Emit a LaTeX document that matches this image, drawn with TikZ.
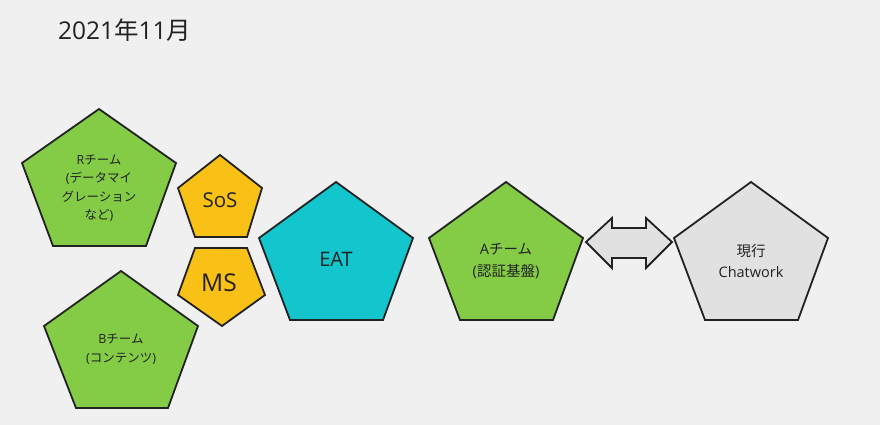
\documentclass[tikz,border=0pt]{standalone}
\usepackage{fontspec}
\setmainfont{Open Sans}
\newfontfamily\cjkfont{Noto Sans CJK JP}
\newcommand\jp[1]{{\cjkfont #1}}
\definecolor{bg}{HTML}{F0F0F0}
\definecolor{edge}{HTML}{222222}
\definecolor{txt}{HTML}{222222}
\definecolor{teamgreen}{HTML}{84CC46}
\definecolor{amber}{HTML}{F9C116}
\definecolor{teal}{HTML}{13C6CE}
\definecolor{pale}{HTML}{E1E1E1}
\tikzset{
  poly/.style={draw=edge, line width=1.8pt, line join=miter},
  lbl/.style={align=center, text=txt, inner sep=0pt}
}
\begin{document}
\begin{tikzpicture}[x=1pt,y=-1pt]
\fill[bg] (0,0) rectangle (880,425);
\useasboundingbox (0,0) rectangle (880,425);

\node[lbl, anchor=west, font=\fontsize{24.5}{28}\selectfont] (title) at (58,30) {2021\jp{年}11\jp{月}};

% R team
\draw[poly, fill=teamgreen] (99,109) -- (176,163) -- (146,246) -- (53,246) -- (22,163) -- cycle;
\node[lbl, font=\fontsize{12.5}{18.5}\selectfont] (rteam) at (99,188)
  {R\jp{チーム}\\(\jp{データマイ}\\\jp{グレーション}\\\jp{など})};

% SoS
\draw[poly, fill=amber] (220,155) -- (262,188) -- (247,237) -- (195,237) -- (178,188) -- cycle;
\node[lbl, font=\fontsize{20.5}{24}\selectfont] (sos) at (220,200) {SoS};

% MS
\draw[poly, fill=amber] (195,248) -- (247,248) -- (265,295) -- (222,326) -- (178,295) -- cycle;
\node[lbl, font=\fontsize{24.5}{28}\selectfont] (ms) at (219,283) {MS};

% B team
\draw[poly, fill=teamgreen] (121,271) -- (198,326) -- (168,408) -- (76,408) -- (44,326) -- cycle;
\node[lbl, font=\fontsize{12.5}{19}\selectfont] (bteam) at (121,349)
  {B\jp{チーム}\\(\jp{コンテンツ})};

% EAT
\draw[poly, fill=teal] (336,182) -- (413,238) -- (383,320) -- (290,320) -- (259,238) -- cycle;
\node[lbl, font=\fontsize{20}{24}\selectfont] (eat) at (336,259) {EAT};

% A team
\draw[poly, fill=teamgreen] (506,182) -- (583,238) -- (553,320) -- (460,320) -- (429,238) -- cycle;
\node[lbl, font=\fontsize{14.5}{22}\selectfont] (ateam) at (506,261)
  {A\jp{チーム}\\(\jp{認証基盤})};

% double arrow
\draw[poly, fill=pale] (586,242) -- (612,218) -- (612,228) -- (646,228) -- (646,218)
  -- (672,242) -- (646,268) -- (646,258) -- (612,258) -- (612,268) -- cycle;
\coordinate (arrow) at (629,242);

% Chatwork
\draw[poly, fill=pale] (751,182) -- (828,238) -- (798,320) -- (705,320) -- (674,238) -- cycle;
\node[lbl, font=\fontsize{14.5}{21}\selectfont] (chatwork) at (751,261)
  {\jp{現行}\\Chatwork};
\end{tikzpicture}
\end{document}
